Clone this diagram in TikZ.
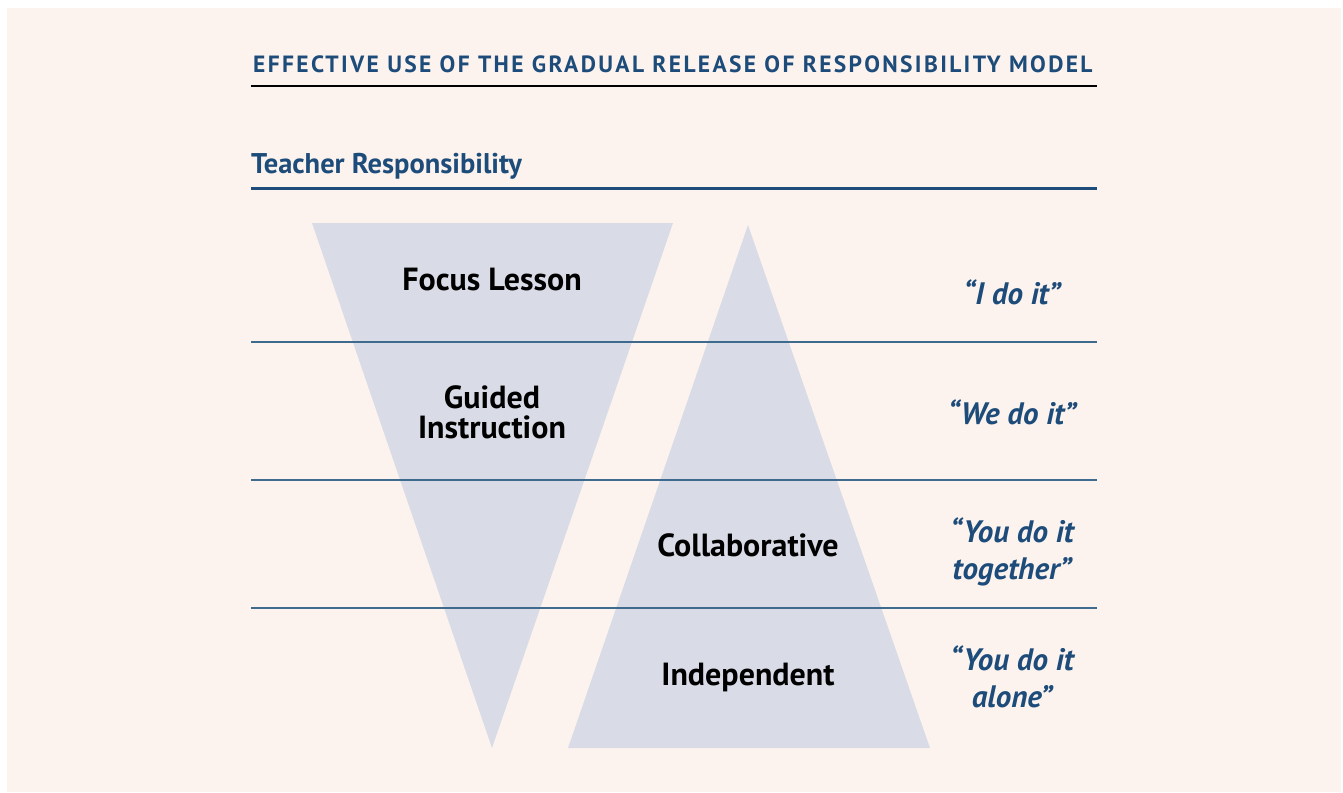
\documentclass[tikz,border=0pt]{standalone}
\usepackage{fontspec}
\setmainfont{PT Sans}
\newfontfamily\spacedfont[LetterSpace=10]{PT Sans}
\definecolor{bgbeige}{HTML}{FCF3EE}
\definecolor{trifill}{HTML}{D9DCE7}
\definecolor{navy}{HTML}{1D4C7A}
\definecolor{rulegrey}{HTML}{3E6A8E}
\tikzset{
  tri/.style={fill=trifill, draw=none},
  sep/.style={draw=rulegrey, line width=1.3pt},
  stage/.style={font=\fontsize{32}{33}\selectfont\bfseries, text=black, align=center, inner sep=0pt},
  quote/.style={font=\fontsize{31}{37}\selectfont\bfseries\itshape, text=navy, align=center, inner sep=0pt},
}
\begin{document}
\begin{tikzpicture}[x=1pt,y=-1pt]
\useasboundingbox (0,0) rectangle (1343,792);
\fill[white] (0,0) rectangle (1343,792);
\fill[bgbeige] (7,8) rectangle (1341,792);
% title
\node[anchor=base west, inner sep=0pt, text=navy, font=\fontsize{23.5}{26}\selectfont\bfseries\spacedfont] (title) at (253,72) {EFFECTIVE USE OF THE GRADUAL RELEASE OF RESPONSIBILITY MODEL};
\coordinate (r1a) at (251,86); \coordinate (r1b) at (1097,86);
\draw[black, line width=1.4pt] (r1a) -- (r1b);
\node[anchor=base west, inner sep=0pt, text=navy, font=\fontsize{28.5}{30}\selectfont\bfseries] (teacher) at (251,173) {Teacher Responsibility};
\coordinate (r2a) at (251,188); \coordinate (r2b) at (1097,188);
\draw[navy, line width=3pt] (r2a) -- (r2b);
% triangles
\fill[tri] (312,223) -- (673,223) -- (492,748) -- cycle;
\fill[tri] (748,225) -- (930,748) -- (568,748) -- cycle;
% separators
\coordinate (s1a) at (251,342); \coordinate (s1b) at (1097,342);
\coordinate (s2a) at (251,480); \coordinate (s2b) at (1097,480);
\coordinate (s3a) at (251,608); \coordinate (s3b) at (1097,608);
\draw[sep] (s1a) -- (s1b);
\draw[sep] (s2a) -- (s2b);
\draw[sep] (s3a) -- (s3b);
% stage labels
\node[stage] (focus) at (492,280) {Focus Lesson};
\node[stage] (guided) at (492,412) {Guided\\[-3pt]Instruction};
\node[stage] (collab) at (748,545) {Collaborative};
\node[stage] (indep) at (748,677) {Independent};
% quotes
\node[quote] (q1) at (1012,292) {“I do it”};
\node[quote] (q2) at (1012,412) {“We do it”};
\node[quote] (q3) at (1012,552) {“You do it\\together”};
\node[quote] (q4) at (1012,677) {“You do it\\alone”};
\end{tikzpicture}
\end{document}
